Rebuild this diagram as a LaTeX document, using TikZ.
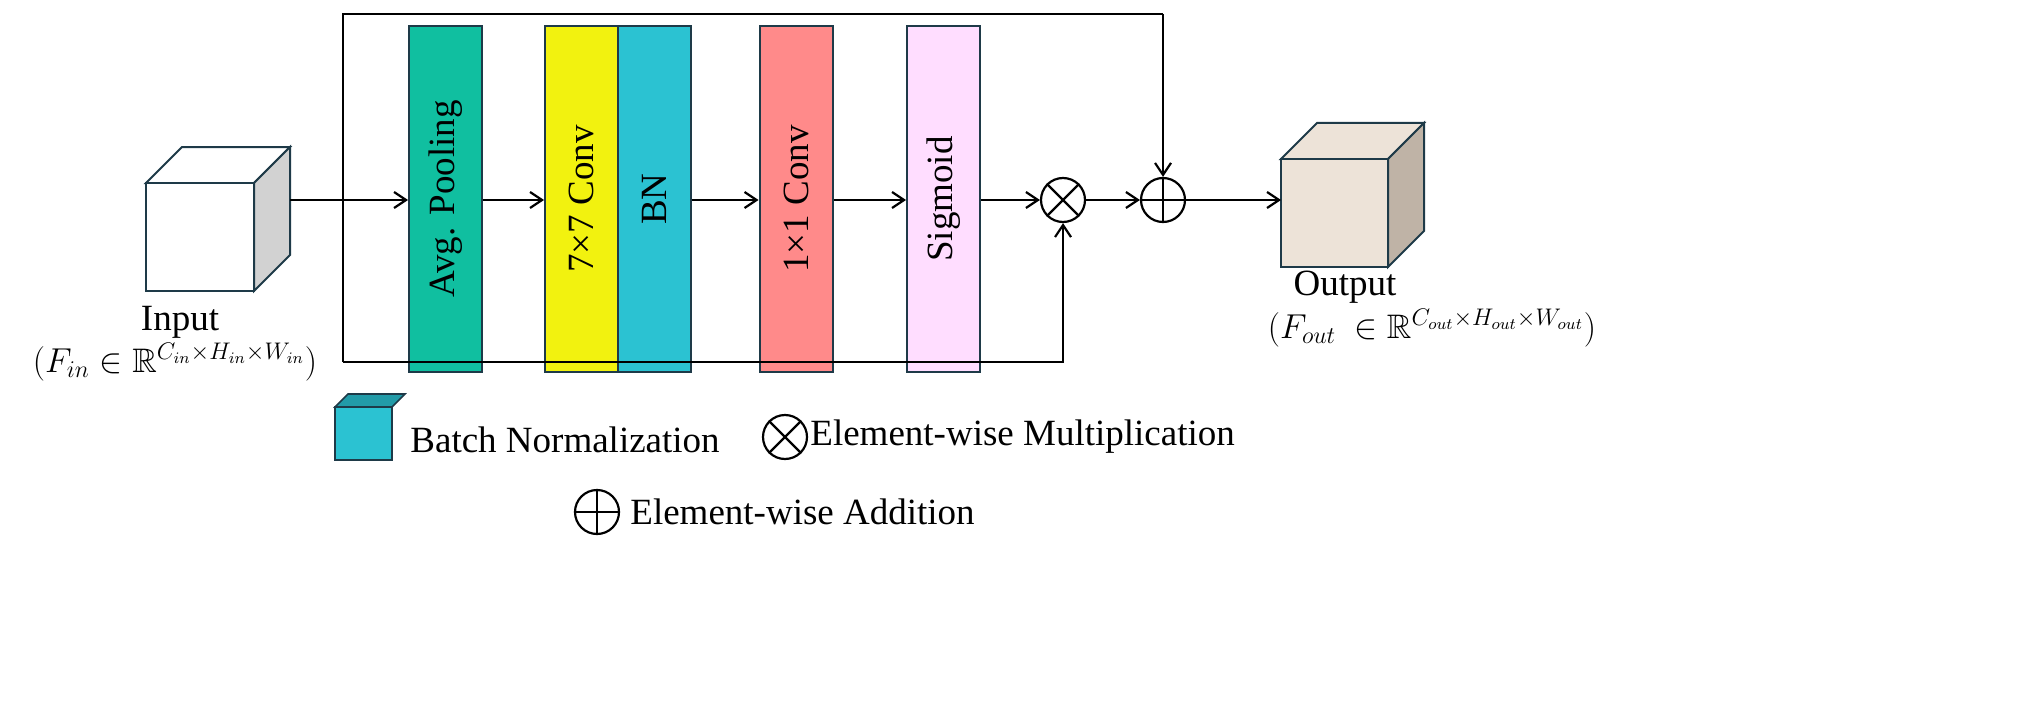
\documentclass[tikz,border=0pt]{standalone}
\usepackage{amssymb}
\usepackage{fontspec}
\setmainfont{Liberation Serif}
\usetikzlibrary{arrows.meta}
\definecolor{teal1}{HTML}{10BFA0}
\definecolor{yel}{HTML}{F2F20F}
\definecolor{bnc}{HTML}{2BC2D2}
\definecolor{red1}{HTML}{FF8A8A}
\definecolor{pink1}{HTML}{FFDDFF}
\definecolor{outf}{HTML}{EDE3D8}
\definecolor{outs}{HTML}{BFB3A6}
\definecolor{edge}{HTML}{1E3A48}
\begin{document}
\begin{tikzpicture}[x=0.5pt,y=-0.5pt,
  blk/.style={draw=edge,line width=1pt,minimum width=36.5pt,minimum height=173pt,inner sep=0pt},
  lbl/.style={rotate=90,font=\fontsize{18.5}{20}\selectfont},
  arr/.style={-{Straight Barb[length=6pt,width=8pt]},line width=1.1pt},
  op/.style={circle,draw,line width=1.1pt,minimum size=22pt,inner sep=0pt},
  txt/.style={font=\fontsize{18.5}{20}\selectfont,inner sep=0pt},
  mtxt/.style={font=\fontsize{17}{20}\selectfont,inner sep=0pt}]
\useasboundingbox (0,0) rectangle (2022,706);
% frame
\coordinate (tl) at (343,14);
\coordinate (bl) at (343,362);
\draw[line width=1.1pt] (bl) -- (tl) -- (1163,14);
% blocks
\node[blk,fill=teal1] (ap) at (445.5,199) {};
\node[lbl] at (ap) {Avg. Pooling};
\node[blk,fill=yel] (cv7) at (581.5,199) {};
\node[lbl] at (cv7) {7×7 Conv};
\node[blk,fill=bnc] (bn) at (654,199) {};
\node[lbl] at (bn) {BN};
\node[blk,fill=red1] (cv1) at (796,199) {};
\node[lbl] at (cv1) {1×1 Conv};
\node[blk,fill=pink1] (sg) at (943.5,199) {};
\node[lbl] at (sg) {Sigmoid};
\node[op] (mul) at (1063,200) {};
\draw[line width=1.1pt] (mul.north west) -- (mul.south east) (mul.north east) -- (mul.south west);
\node[op] (add) at (1163,200) {};
\draw[line width=1.1pt] (add.north) -- (add.south) (add.west) -- (add.east);
% input cube
\draw[draw=edge,line width=1pt,fill=white] (146,183) -- (182,147) -- (290,147) -- (254,183) -- cycle;
\draw[draw=edge,line width=1pt,fill=gray!35] (254,183) -- (290,147) -- (290,255) -- (254,291) -- cycle;
\draw[draw=edge,line width=1pt,fill=white] (146,183) rectangle (254,291);
\coordinate (inR) at (290,200);
% output cube
\draw[draw=edge,line width=1pt,fill=outf] (1281,159) -- (1317,123) -- (1424,123) -- (1388,159) -- cycle;
\draw[draw=edge,line width=1pt,fill=outs] (1388,159) -- (1424,123) -- (1424,231) -- (1388,267) -- cycle;
\draw[draw=edge,line width=1pt,fill=outf] (1281,159) rectangle (1388,267);
\coordinate (outL) at (1281,200);
% arrows
\draw[arr] (inR) -- (ap.west|-inR);
\draw[arr] (ap.east|-inR) -- (cv7.west|-inR);
\draw[arr] (bn.east|-inR) -- (cv1.west|-inR);
\draw[arr] (cv1.east|-inR) -- (sg.west|-inR);
\draw[arr] (sg.east|-inR) -- (mul.west);
\draw[arr] (mul.east) -- (add.west);
\draw[arr] (add.east) -- (outL);
\draw[arr] (1163,14) -- (add.north);
\draw[arr] (bl) -- (1063,362) -- (mul.south);
% labels
\node[txt] at (180,322) {Input};
\node[mtxt] at (175,362) {$(F_{in}\in\mathbb{R}^{C_{in}\times H_{in}\times W_{in}})$};
\node[txt] at (1345,287) {Output};
\node[mtxt] at (1432,328) {$(F_{out}\ \in\mathbb{R}^{C_{out}\times H_{out}\times W_{out}})$};
% legend
\draw[draw=edge,line width=0.8pt,fill=bnc!80!black] (335,407) -- (348,394) -- (405,394) -- (392,407) -- cycle;
\draw[draw=edge,line width=0.8pt,fill=bnc] (335,407) rectangle (392,460);
\node[txt,anchor=west] at (410,440) {Batch Normalization};
\node[op] (lm) at (785,437) {};
\draw[line width=1.1pt] (lm.north west) -- (lm.south east) (lm.north east) -- (lm.south west);
\node[txt,anchor=west] at (810,437) {Element-wise Multiplication};
\node[op] (la) at (597,512) {};
\draw[line width=1.1pt] (la.north) -- (la.south) (la.west) -- (la.east);
\node[txt,anchor=west] at (630,512) {Element-wise Addition};
\end{tikzpicture}
\end{document}
